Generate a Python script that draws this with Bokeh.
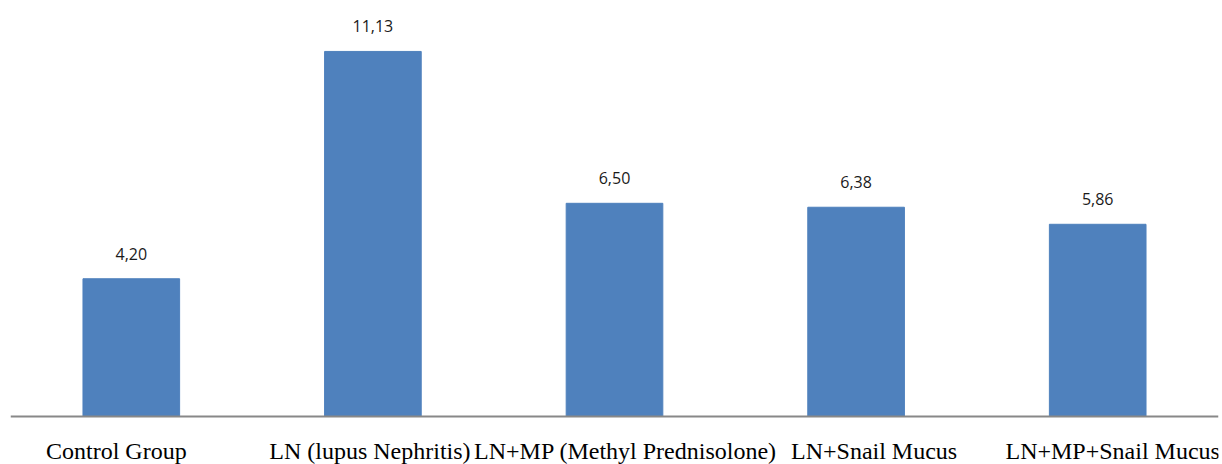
from bokeh.plotting import figure
from bokeh.models import ColumnDataSource, Range1d, FactorRange, Span
from bokeh.core.properties import value
from bokeh.embed import file_html
from bokeh.resources import INLINE

categories = ["Control Group", "LN (lupus Nephritis)", "LN+MP (Methyl Prednisolone)",
              "LN+Snail Mucus", "LN+MP+Snail Mucus"]
values = [4.20, 11.13, 6.50, 6.38, 5.86]
value_labels = ["4,20", "11,13", "6,50", "6,38", "5,86"]

# horizontal nudges (px) of the category labels, as seen in the original layout
label_nudge = [-15, -3, 11, 18, 15]

src = ColumnDataSource(dict(cat=categories, val=values, lab=value_labels,
                            base=[0] * len(categories), nudge=label_nudge))

p = figure(width=1222, height=464, x_range=FactorRange(*categories, range_padding=0),
           y_range=Range1d(-1.4634, 12.683), output_backend="svg", toolbar_location=None,
           min_border_left=10, min_border_right=4, min_border_top=0, min_border_bottom=0)

p.vbar(x="cat", top="val", width=0.4, source=src, fill_color="#4F81BD",
       line_color="#4F81BD")
p.text(x="cat", y="val", text="lab", source=src, text_align="center",
       text_baseline="alphabetic", y_offset=-25, text_font=value("Open Sans"),
       text_font_size="16px", text_color="#1a1a1a")

p.text(x="cat", y="base", text="cat", source=src, x_offset="nudge", y_offset=34,
       text_align="center", text_baseline="alphabetic",
       text_font=value("Liberation Serif"), text_font_size="24px", text_color="#000000")

p.xaxis.visible = False
p.yaxis.visible = False
p.grid.visible = False
p.outline_line_color = None

p.add_layout(Span(location=0, dimension="width", line_color="#888888", line_width=2))

open("out.html", "w").write(file_html(p, INLINE))
